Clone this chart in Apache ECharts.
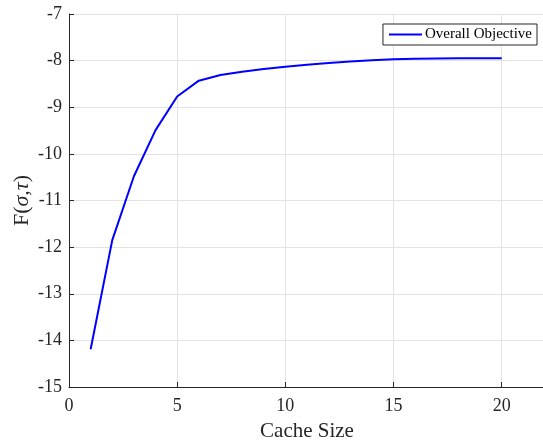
<!DOCTYPE html>
<html>
<head>
<meta charset="utf-8">
<script src="https://cdn.jsdelivr.net/npm/echarts@6/dist/echarts.min.js"></script>
<style>html,body{margin:0;padding:0;background:#fff}#c{width:543px;height:440px}</style>
</head>
<body>
<div id="c"></div>
<script>
const cacheSize = [1,2,3,4,5,6,7,8,9,10,11,12,13,14,15,16,17,18,19,20];
const objective = [-14.19,-11.85,-10.48,-9.49,-8.77,-8.43,-8.31,-8.24,-8.18,-8.13,-8.09,-8.05,-8.02,-7.99,-7.97,-7.96,-7.955,-7.95,-7.95,-7.95];
const seriesName = 'Overall Objective';
const xTicks = [0,5,10,15,20];
const yTicks = [-15,-14,-13,-12,-11,-10,-9,-8,-7];

const font = '"Liberation Serif","Times New Roman",serif';
const axisColor = '#262626';
const chart = echarts.init(document.getElementById('c'));
chart.setOption({
  animation: false,
  backgroundColor: '#fff',
  grid: { left: 69, top: 14, width: 476, height: 373, containLabel: false, outerBoundsMode: 'none' },
  legend: {
    data: [{ name: seriesName, icon: 'rect' }],
    right: 6, top: 24,
    orient: 'vertical',
    backgroundColor: '#fff',
    borderColor: '#262626', borderWidth: 1, borderRadius: 0,
    padding: [3, 5, 3, 6],
    itemWidth: 33, itemHeight: 2, itemGap: 0,
    textStyle: { fontFamily: font, fontSize: 15, color: '#000', padding: [0,0,0,-2] }
  },
  xAxis: {
    type: 'value', min: 0, max: 22, interval: 5,
    name: 'Cache Size', nameLocation: 'middle', nameGap: 34, nameMoveOverlap: false,
    nameTextStyle: { fontFamily: font, fontSize: 21, color: '#262626' },
    axisLine: { show: true, onZero: false, lineStyle: { color: axisColor, width: 1 } },
    axisTick: { show: true, inside: true, length: 5, lineStyle: { color: axisColor } },
    axisLabel: { fontFamily: font, fontSize: 18, color: '#262626', margin: 10, showMaxLabel: false,
      formatter: v => xTicks.includes(v) ? String(v) : '' },
    splitLine: { show: true, lineStyle: { color: '#e3e3e3', width: 1 } }
  },
  yAxis: {
    type: 'value', min: -15, max: -7, interval: 1,
    name: '{a|F(}{b|σ,τ}{a|)}', nameLocation: 'middle', nameGap: 36, nameMoveOverlap: false,
    nameTextStyle: { fontFamily: font, fontSize: 22, color: '#262626',
      rich: { a: { fontFamily: font, fontSize: 22, color: '#262626' },
              b: { fontFamily: font, fontSize: 22, fontStyle: 'italic', color: '#262626' } } },
    axisLine: { show: true, onZero: false, lineStyle: { color: axisColor, width: 1 } },
    axisTick: { show: true, inside: true, length: 5, lineStyle: { color: axisColor } },
    axisLabel: { fontFamily: font, fontSize: 18, color: '#262626', margin: 7,
      formatter: v => yTicks.includes(v) ? String(v) : '' },
    splitLine: { show: true, lineStyle: { color: '#e3e3e3', width: 1 } }
  },
  series: [{
    name: seriesName, type: 'line',
    data: cacheSize.map((x, i) => [x, objective[i]]),
    symbol: 'none', showSymbol: false,
    lineStyle: { color: '#0000ff', width: 2 },
    itemStyle: { color: '#0000ff' }
  }]
});
</script>
</body>
</html>
